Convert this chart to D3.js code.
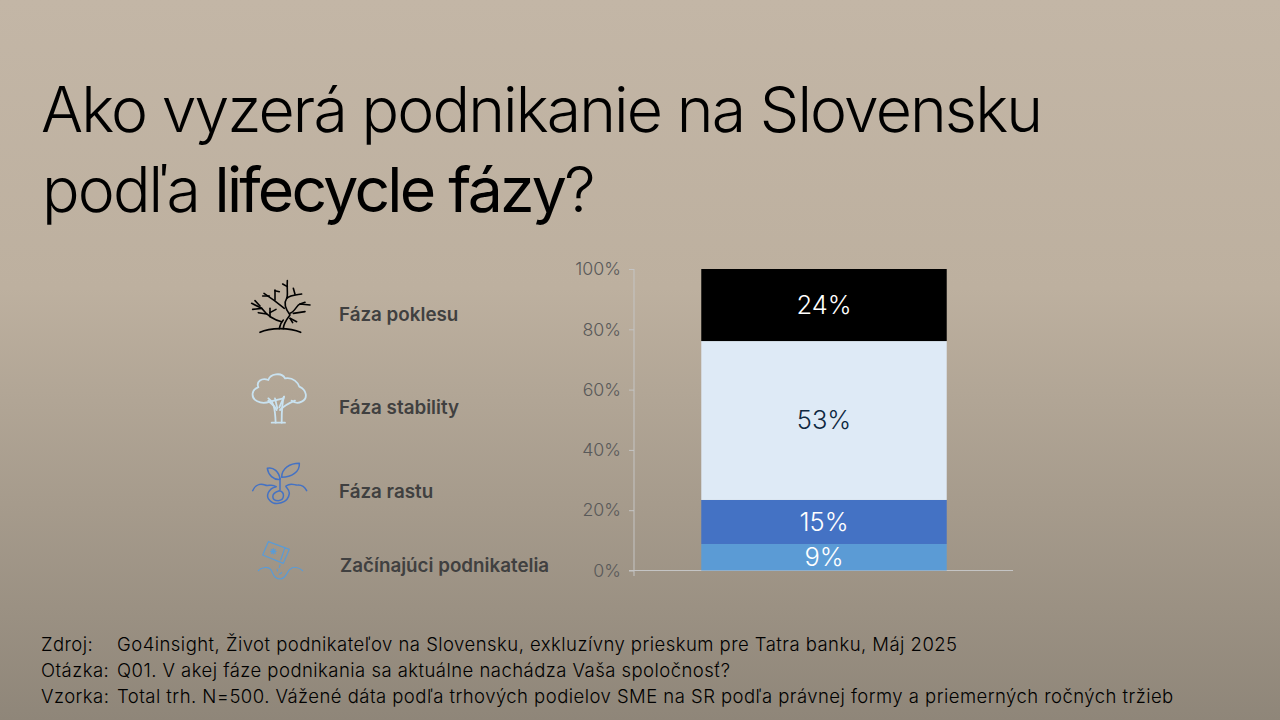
<!DOCTYPE html>
<html><head><meta charset="utf-8">
<script src="https://cdn.jsdelivr.net/npm/d3@7/dist/d3.min.js"></script>
<style>html,body{margin:0;padding:0;background:#a89d8e}svg{display:block}text{font-family:Inter,"Liberation Sans",sans-serif}</style>
</head><body><svg id="c" width="1280" height="720"></svg>
<script>
const categories=["Začínajúci podnikatelia","Fáza rastu","Fáza stability","Fáza poklesu"];
const values=[8.8,14.6,52.7,23.9];
const valueLabels=["9%","15%","53%","24%"];
const barColors=["#5b9bd5","#4472c4","#deeaf6","#000000"];
const labelColors=["#ffffff","#ffffff","#0e2841","#ffffff"];
const ticks=[0,20,40,60,80,100];
const legendY=[565,491,407,314];
const legendX=[340,339,339,339];
const footerKeys=["Zdroj:","Otázka:","Vzorka:"];
const footerLines=["Go4insight, Život podnikateľov na Slovensku, exkluzívny prieskum pre Tatra banku, Máj 2025","Q01. V akej fáze podnikania sa aktuálne nachádza Vaša spoločnosť?","Total trh. N=500. Vážené dáta podľa trhových podielov SME na SR podľa právnej formy a priemerných ročných tržieb"];
const footerY=[651,677,703];

const svg=d3.select("#c");
const defs=svg.append("defs");
const g=defs.append("linearGradient").attr("id","bg").attr("x1",0).attr("y1",0).attr("x2",0).attr("y2",1);
g.append("stop").attr("offset","0%").attr("stop-color","#c3b6a6");
g.append("stop").attr("offset","40%").attr("stop-color","#bdb09f");
g.append("stop").attr("offset","100%").attr("stop-color","#8f8679");
svg.append("rect").attr("width",1280).attr("height",720).attr("fill","url(#bg)");

const t=svg.append("g").attr("font-size",62.5).attr("font-weight",300).attr("fill","#000").attr("letter-spacing",-1.9);
t.append("text").attr("x",41).attr("y",132).text("Ako vyzerá podnikanie na Slovensku");
const t2=t.append("text").attr("x",42).attr("y",212);
t2.append("tspan").text("podľa ");
t2.append("tspan").attr("font-weight",400).attr("letter-spacing",-2.75).text("lifecycle fázy");
t2.append("tspan").text("?");

const y=d3.scaleLinear().domain([0,100]).range([570.5,269]);
const x=d3.scaleBand().domain(["total"]).range([635,1013]).paddingInner(0).paddingOuter(0.27);
const axis=svg.append("g").attr("transform","translate(634,0)").call(d3.axisLeft(y).tickValues(ticks).tickFormat(d=>d+"%").tickSize(5).tickPadding(8));
axis.selectAll("path,line").attr("stroke","#c4c4c4").attr("stroke-width",1);
axis.select(".domain").attr("d","M0,269V576");
axis.selectAll("text").attr("font-size",17.8).attr("font-weight",300).attr("fill","#595959").style("font-family","Inter");
svg.append("line").attr("x1",629).attr("x2",1013).attr("y1",y(0)).attr("y2",y(0)).attr("stroke","#c4c4c4").attr("stroke-width",1);

const stack=d3.stack().keys(d3.range(values.length))([values]);
const bars=svg.append("g");
stack.forEach((s,i)=>{
  const a=s[0][0],b=s[0][1];
  bars.append("rect").attr("x",x("total")).attr("width",x.bandwidth()).attr("y",y(b)).attr("height",y(a)-y(b)).attr("fill",barColors[i]);
  svg.append("text").attr("x",x("total")+x.bandwidth()/2).attr("y",(y(a)+y(b))/2-0.5).attr("dy","0.36em").attr("text-anchor","middle").attr("font-size",25.5).attr("font-weight",300).attr("fill",labelColors[i]).text(valueLabels[i]);
});

const leg=svg.append("g").attr("font-size",18.8).attr("font-weight",600).attr("fill","#404040");
categories.forEach((c,i)=>leg.append("text").attr("x",legendX[i]).attr("y",legendY[i]).attr("dy","0.36em").text(c));

const foot=svg.append("g").attr("font-size",18.5).attr("font-weight",300).attr("fill","#000").attr("letter-spacing",0.46);
footerKeys.forEach((k,i)=>{
  foot.append("text").attr("x",41).attr("y",footerY[i]).text(k);
  foot.append("text").attr("x",117).attr("y",footerY[i]).text(footerLines[i]);
});

// decorative icons, drawn in 3x crop coordinates
function ic(ox,oy,col,w,paths){const n=svg.append("g").attr("transform",`translate(${ox},${oy}) scale(${1/3})`).attr("fill","none").attr("stroke",col).attr("stroke-width",w*3).attr("stroke-linecap","round").attr("stroke-linejoin","round");paths.forEach(p=>n.append("path").attr("d",p));}
ic(240,270,"#000",1.6,[
"M60,187C90,172 150,172 182,187","M118,176C120,165 122,158 130,150","M130,176C130,160 140,148 150,135C135,115 130,100 140,85C145,75 140,60 142,32",
"M140,85C150,75 165,75 185,72","M160,55L165,73","M128,42L142,50","M150,130C165,125 170,105 180,102L210,105","M180,102L195,97","M160,130L195,125",
"M125,155C100,150 80,135 65,115L35,100","M65,115L38,118","M45,92L60,108","M55,128L80,132","M90,115L90,140","M90,128L108,118",
"M133,115C115,100 95,85 72,70","M105,60L105,90","M105,62L118,65","M68,78L88,78","M150,145L170,155","M150,145L158,158"]);
ic(240,270,"#c9e2f0",1.8,[
"M90,395C60,405 35,390 38,370C40,355 50,355 55,352C48,335 65,322 85,330C90,312 125,305 135,325C160,320 175,340 178,350C200,360 205,385 185,395C175,400 165,400 155,392",
"M85,385C100,395 105,410 107,458","M132,380C125,400 125,430 125,458","M95,458H135","M85,392C95,405 100,400 110,420","M165,392C145,400 130,410 120,420","M105,385L112,415","M132,380L118,412","M90,395L130,385"]);
ic(240,450,"#4472c4",1.5,[
"M120,88C100,90 85,75 82,55C100,50 118,65 120,88","M125,82C125,55 150,40 178,40C180,65 155,82 125,82","M120,85V120",
"M38,122C45,105 60,100 75,105C85,110 95,100 108,110","M138,108C155,95 165,108 175,105C185,105 195,112 200,122",
"M118,122C135,125 135,150 115,152C95,152 90,130 118,122","M108,110C85,115 75,140 90,152C105,168 145,160 148,130C148,120 142,115 138,110"]);
ic(240,450,"#5b9bd5",1.2,[
"M85,275L148,298L130,340L68,315Z","M135,293L122,330","M100,296L100,312M92,304L108,304M94,298L106,310M106,298L94,310",
"M55,362C65,350 85,350 92,358C100,370 100,385 120,387C140,385 140,365 150,358C160,348 175,352 188,362",
"M120,345L118,352","M112,358L112,363","M125,368L118,373"]);
</script>
</body></html>
